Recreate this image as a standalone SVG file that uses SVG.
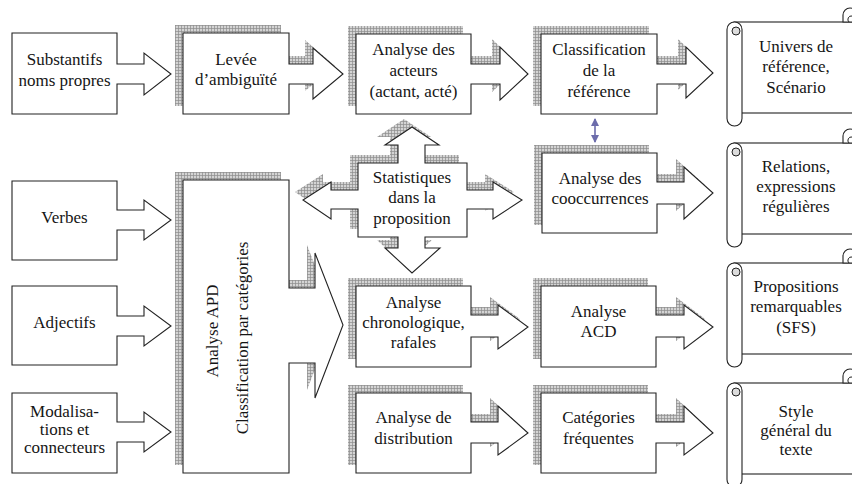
<svg xmlns="http://www.w3.org/2000/svg" width="852" height="484" viewBox="0 0 852 484">
<defs>
<pattern id="hatch" width="3" height="3" patternUnits="userSpaceOnUse">
<rect width="3" height="3" fill="#d4d4d4"/>
<path d="M0 0.5H3M0.5 0V3" stroke="#8c8c8c" stroke-width="0.7"/>
</pattern>
<marker id="ah" markerWidth="8" markerHeight="8" viewBox="0 0 8 8" refX="7" refY="4" orient="auto-start-reverse" markerUnits="userSpaceOnUse">
<path d="M0 0L8 4L0 8Z" fill="#6c6cab"/>
</marker>
<g id="scroll">
<rect class="nd" x="734" y="14" width="140" height="91"/>
<path class="nd" d="M843 14V7A7 7 0 0 1 857 7V14Z"/>
<path class="ln" d="M849 14A3.5 3.5 0 0 1 852 8"/>
<rect class="nd" x="727" y="14" width="15" height="104" rx="7.5"/>
<circle cx="736" cy="23" r="4" fill="#dcdcdc" stroke="#222" stroke-width="1"/>
</g>
</defs>
<style>
.nd{fill:#fff;stroke:#222;stroke-width:1.1}
.sh{fill:url(#hatch);stroke:none}
.ln{fill:none;stroke:#222;stroke-width:1}
text{font-family:"Liberation Serif","Times New Roman",serif;font-size:17px;fill:#151515;text-anchor:middle}
</style>
<rect width="852" height="484" fill="#fff"/>

<g id="substantifs">
<path class="nd" d="M12 33H117V64H144V53L171 74L144 95V84H117V114H12Z"/>
<text x="64.5" y="65">Substantifs</text>
<text x="64.5" y="86">noms propres</text>
</g>

<g id="levee">
<path class="sh" transform="translate(-8,-8)" d="M183 33H289V64H313V48L343 74L313 99V84H289V114H183Z"/>
<path class="nd" d="M183 33H289V64H313V48L343 74L313 99V84H289V114H183Z"/>
<text x="236" y="65">Levée</text>
<text x="236" y="85">d’ambiguïté</text>
</g>

<g id="acteurs">
<path class="sh" transform="translate(-8,-8)" d="M356 34H471V64H500V47L528 74L500 100V84H471V114H356Z"/>
<path class="nd" d="M356 34H471V64H500V47L528 74L500 100V84H471V114H356Z"/>
<text x="413.5" y="55">Analyse des</text>
<text x="413.5" y="76">acteurs</text>
<text x="413.5" y="97">(actant, acté)</text>
</g>

<g id="classification">
<path class="sh" transform="translate(-8,-8)" d="M541 34H657V64H686V47L713 73L686 98V84H657V114H541Z"/>
<path class="nd" d="M541 34H657V64H686V47L713 73L686 98V84H657V114H541Z"/>
<text x="599" y="55">Classification</text>
<text x="599" y="76">de la</text>
<text x="599" y="97">référence</text>
</g>

<g id="univers">
<use href="#scroll" transform="translate(0,8)"/>
<text x="796" y="52">Univers de</text>
<text x="796" y="72">référence,</text>
<text x="796" y="93">Scénario</text>
</g>

<g id="verbes">
<path class="nd" d="M12 181H117V210H144V200L171 220L144 240V230H117V260H12Z"/>
<text x="64.5" y="223">Verbes</text>
</g>

<g id="adjectifs">
<path class="nd" d="M12 286H117V316H144V306L171 326L144 346V336H117V365H12Z"/>
<text x="64.5" y="328">Adjectifs</text>
</g>

<g id="modalisations">
<path class="nd" d="M12 393H117V422H144V412L171 432L144 452V442H117V473H12Z"/>
<text x="64.5" y="417">Modalisa-</text>
<text x="64.5" y="435">tions et</text>
<text x="64.5" y="453">connecteurs</text>
</g>

<g id="apd">
<path class="sh" transform="translate(-8,-8)" d="M183 180H289V288H315V253L343 325L315 398V363H289V473H183Z"/>
<path class="nd" d="M183 180H289V288H315V253L343 325L315 398V363H289V473H183Z"/>
<text transform="translate(218,331) rotate(-90)">Analyse APD</text>
<text transform="translate(248,338) rotate(-90)">Classification par catégories</text>
</g>

<g id="statistiques">
<path class="sh" transform="translate(-8,-8)" d="M358 163H398V145H385L412 127L439 145H425V163H467V190H493V182L522 200L493 219V209H467V237H425V248H440L412 273L385 248H398V237H358V209H331V219L303 200L331 182V190H358Z"/>
<path class="nd" d="M358 163H398V145H385L412 127L439 145H425V163H467V190H493V182L522 200L493 219V209H467V237H425V248H440L412 273L385 248H398V237H358V209H331V219L303 200L331 182V190H358Z"/>
<text x="412" y="183">Statistiques</text>
<text x="412" y="203">dans la</text>
<text x="412" y="224">proposition</text>
</g>

<g id="cooccurrences">
<path class="sh" transform="translate(-8,-8)" d="M542 153H657V182H684V167L713 193L684 219V204H657V233H542Z"/>
<path class="nd" d="M542 153H657V182H684V167L713 193L684 219V204H657V233H542Z"/>
<text x="600" y="184">Analyse des</text>
<text x="600" y="204">cooccurrences</text>
</g>

<g id="relations">
<use href="#scroll" transform="translate(0,129)"/>
<text x="796" y="172">Relations,</text>
<text x="796" y="192">expressions</text>
<text x="796" y="212">régulières</text>
</g>

<g id="chronologique">
<path class="sh" transform="translate(-8,-8)" d="M356 286H471V315H498V305L528 327L498 349V337H471V367H356Z"/>
<path class="nd" d="M356 286H471V315H498V305L528 327L498 349V337H471V367H356Z"/>
<text x="413.5" y="308">Analyse</text>
<text x="413.5" y="328">chronologique,</text>
<text x="413.5" y="348">rafales</text>
</g>

<g id="acd">
<path class="sh" transform="translate(-8,-8)" d="M541 286H656V315H684V305L713 327L684 349V337H656V367H541Z"/>
<path class="nd" d="M541 286H656V315H684V305L713 327L684 349V337H656V367H541Z"/>
<text x="598.5" y="317">Analyse</text>
<text x="598.5" y="337">ACD</text>
</g>

<g id="propositions">
<use href="#scroll" transform="translate(0,249)"/>
<text x="796" y="292">Propositions</text>
<text x="796" y="312">remarquables</text>
<text x="796" y="333">(SFS)</text>
</g>

<g id="distribution">
<path class="sh" transform="translate(-8,-8)" d="M356 393H471V422H498V406L528 433L498 455V443H471V473H356Z"/>
<path class="nd" d="M356 393H471V422H498V406L528 433L498 455V443H471V473H356Z"/>
<text x="413.5" y="423">Analyse de</text>
<text x="413.5" y="444">distribution</text>
</g>

<g id="categories">
<path class="sh" transform="translate(-8,-8)" d="M541 393H656V422H684V406L713 433L684 455V443H656V473H541Z"/>
<path class="nd" d="M541 393H656V422H684V406L713 433L684 455V443H656V473H541Z"/>
<text x="598.5" y="423">Catégories</text>
<text x="598.5" y="444">fréquentes</text>
</g>

<g id="style">
<use href="#scroll" transform="translate(0,369)"/>
<text x="796" y="417">Style</text>
<text x="796" y="436">général du</text>
<text x="796" y="455">texte</text>
</g>

<g id="connectors">
<line x1="595" y1="119" x2="595" y2="142" stroke="#6c6cab" stroke-width="1.6" marker-start="url(#ah)" marker-end="url(#ah)"/>
</g>
</svg>
